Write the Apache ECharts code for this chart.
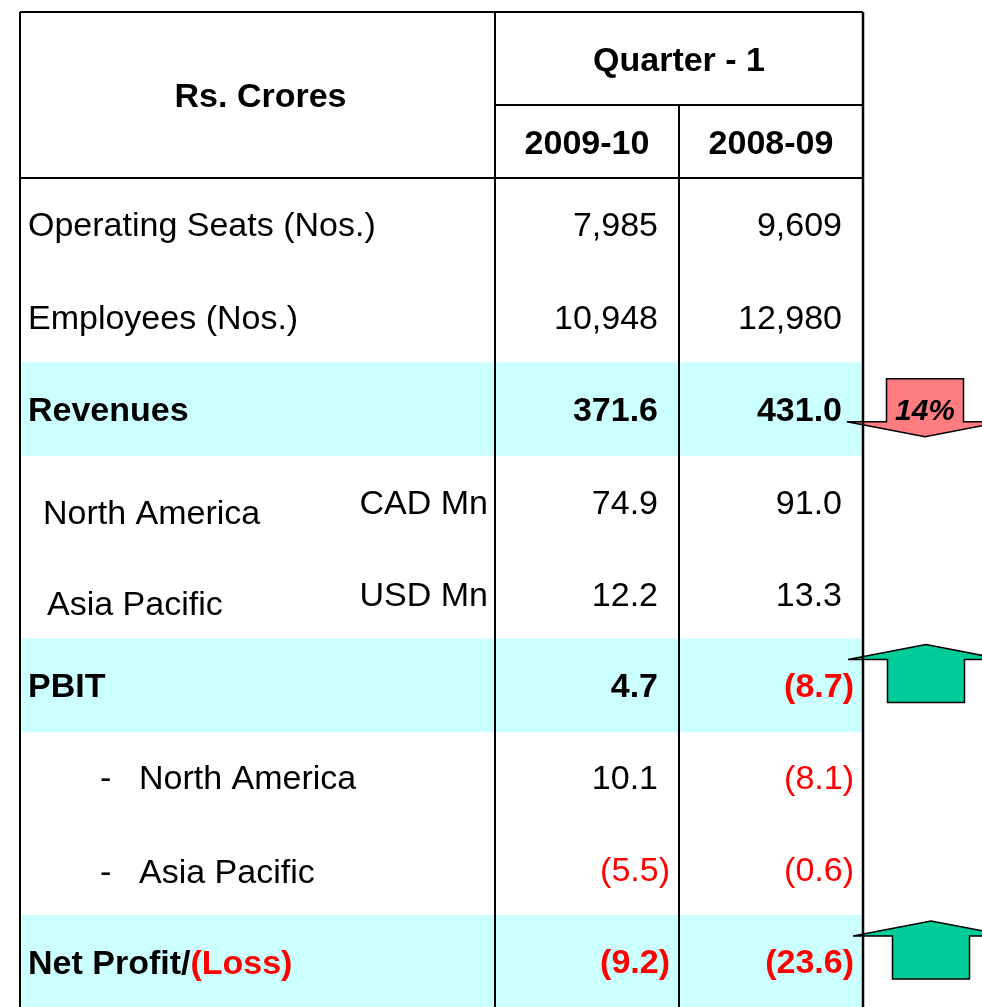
<!DOCTYPE html>
<html>
<head>
<meta charset="utf-8">
<script src="https://cdn.jsdelivr.net/npm/echarts@6/dist/echarts.min.js"></script>
<style>
  html, body { margin: 0; padding: 0; background: #fff; }
  #main { width: 982px; height: 1007px; }
</style>
</head>
<body>
<div id="main"></div>
<script>
// table data
var cornerTitle = 'Rs. Crores';
var periodTitle = 'Quarter - 1';
var periods = ['2009-10', '2008-09'];
var rowLabels = ['Operating Seats (Nos.)', 'Employees (Nos.)', 'Revenues', 'North America', 'Asia Pacific',
    'PBIT', 'North America', 'Asia Pacific', 'Net Profit/(Loss)'];
var rowUnits = ['', '', '', 'CAD Mn', 'USD Mn', '', '', '', ''];
var q1FY10 = [7985, 10948, 371.6, 74.9, 12.2, 4.7, 10.1, -5.5, -9.2];
var q1FY09 = [9609, 12980, 431.0, 91.0, 13.3, -8.7, -8.1, -0.6, -23.6];
var countRows = [0, 1];
var highlightRows = [2, 5, 8];
var subRows = [6, 7];
var trendRows = [2, 5, 8];
var trendDirs = ['down', 'up', 'up'];
var trendLabels = ['14%', '', ''];

// layout
var FONT = "'Liberation Sans', Arial, sans-serif";
var FS = 34;
var DY = 3; // baseline nudge for text
var TL = 20, TR = 863, TT = 12, HB = 178, QB = 105;
var C1 = 495, C2 = 679;
var labelIndent = [28, 28, 28, 43, 47, 28, 139, 139, 28];
var labelShift = [0, 0, 0, 11, 10, 0, 0, 2, 1];
var unitShift = [0, 0, 0, 1, 1, 0, 0, 0, 0];
var arrowX = [925, 926, 931];

function fmt(v, i) {
    var s = countRows.indexOf(i) >= 0 ? v.toLocaleString('en-US') : Math.abs(v).toFixed(1);
    return v < 0 ? '(' + s + ')' : s;
}

var myChart = echarts.init(document.getElementById('main'));

function bandItem(params, api) {
    var p = api.coord([0, api.value(1)]);
    var h = api.size([0, 1])[1];
    return {
        type: 'rect',
        shape: { x: params.coordSys.x, y: p[1] - h / 2, width: params.coordSys.width, height: h + 1.5 },
        style: { fill: '#CCFFFF' }
    };
}

function cellItem(params, api) {
    var i = params.dataIndex;
    var cy = api.coord([0, api.value(1)])[1];
    var ty = cy + DY;
    var bold = highlightRows.indexOf(i) >= 0;
    var weight = bold ? 'bold' : 'normal';
    var kids = [];
    var label = {
        type: 'text',
        style: {
            text: rowLabels[i], x: labelIndent[i], y: ty + labelShift[i],
            fill: '#000', fontFamily: FONT, fontSize: FS, fontWeight: weight,
            align: 'left', verticalAlign: 'middle'
        }
    };
    if (rowLabels[i] === 'Net Profit/(Loss)') {
        label.style.text = '{a|Net Profit/}{b|(Loss)}';
        label.style.rich = {
            a: { fill: '#000', fontFamily: FONT, fontSize: FS, fontWeight: 'bold' },
            b: { fill: '#FF0000', fontFamily: FONT, fontSize: FS, fontWeight: 'bold' }
        };
    }
    kids.push(label);
    if (subRows.indexOf(i) >= 0) {
        kids.push({
            type: 'text',
            style: {
                text: '-', x: 100, y: ty + labelShift[i], fill: '#000', fontFamily: FONT,
                fontSize: FS, align: 'left', verticalAlign: 'middle'
            }
        });
    }
    if (rowUnits[i]) {
        kids.push({
            type: 'text',
            style: {
                text: rowUnits[i], x: C1 - 7, y: ty + unitShift[i], fill: '#000', fontFamily: FONT,
                fontSize: FS, align: 'right', verticalAlign: 'middle'
            }
        });
    }
    [[q1FY10[i], C2], [q1FY09[i], TR]].forEach(function (d) {
        var v = d[0];
        kids.push({
            type: 'text',
            style: {
                text: fmt(v, i), x: d[1] - (v < 0 ? 9 : 21), y: ty + unitShift[i],
                fill: v < 0 ? '#FF0000' : '#000', fontFamily: FONT, fontSize: FS, fontWeight: weight,
                align: 'right', verticalAlign: 'middle'
            }
        });
    });
    var t = trendRows.indexOf(i);
    if (t >= 0) {
        var cx = arrowX[t];
        var pts;
        if (trendDirs[t] === 'down') {
            pts = [[cx - 38.5, cy - 29.5], [cx + 38.5, cy - 29.5], [cx + 38.5, cy + 13.5], [cx + 78, cy + 13.5],
                [cx, cy + 28.5], [cx - 78, cy + 13.5], [cx - 38.5, cy + 13.5]];
        } else {
            pts = [[cx, cy - 40], [cx + 78, cy - 25], [cx + 38.5, cy - 25], [cx + 38.5, cy + 18],
                [cx - 38.5, cy + 18], [cx - 38.5, cy - 25], [cx - 78, cy - 25]];
        }
        kids.push({
            type: 'polygon', z2: 50,
            shape: { points: pts },
            style: { fill: trendDirs[t] === 'down' ? '#FF7C80' : '#00CC99', stroke: '#000', lineWidth: 1.5 }
        });
        if (trendLabels[t]) {
            kids.push({
                type: 'text', z2: 60,
                style: {
                    text: trendLabels[t], x: cx, y: cy + 3, fill: '#000', fontFamily: FONT,
                    fontSize: 30, fontWeight: 'bold', fontStyle: 'italic',
                    align: 'center', verticalAlign: 'middle'
                }
            });
        }
    }
    return { type: 'group', children: kids };
}

function line(x1, y1, x2, y2, w) {
    return {
        type: 'line', z: 100,
        shape: { x1: x1, y1: y1, x2: x2, y2: y2 },
        style: { stroke: '#000', lineWidth: w || 2 }
    };
}

function headText(text, x, y) {
    return {
        type: 'text', z: 100,
        style: {
            text: text, x: x, y: y + DY, fill: '#000', fontFamily: FONT, fontSize: FS,
            fontWeight: 'bold', align: 'center', verticalAlign: 'middle'
        }
    };
}

var option = {
    animation: false,
    backgroundColor: '#fff',
    grid: { left: TL, top: HB, width: TR - TL, height: 833 },
    xAxis: { type: 'value', min: 0, max: 1, show: false },
    yAxis: { type: 'category', data: rowLabels, inverse: true, show: false },
    graphic: [
        line(TL, TT, TR, TT),
        line(TL, TT, TL, 1007),
        line(TL, HB, TR, HB),
        line(C1, QB, TR, QB),
        line(C1, TT, C1, 1007),
        line(C2, QB, C2, 1007),
        line(TR, TT, TR, 1007, 2.5),
        headText(cornerTitle, (TL + C1) / 2 + 3, (TT + HB) / 2),
        headText(periodTitle, (C1 + TR) / 2, (TT + QB) / 2),
        headText(periods[0], (C1 + C2) / 2, (QB + HB) / 2),
        headText(periods[1], (C2 + TR) / 2, (QB + HB) / 2)
    ],
    series: [{
        type: 'custom',
        z: 1,
        renderItem: bandItem,
        data: highlightRows.map(function (r) { return [0, r]; })
    }, {
        type: 'custom',
        z: 3,
        renderItem: cellItem,
        data: rowLabels.map(function (n, i) { return [0, i]; })
    }]
};
myChart.setOption(option);
</script>
</body>
</html>
